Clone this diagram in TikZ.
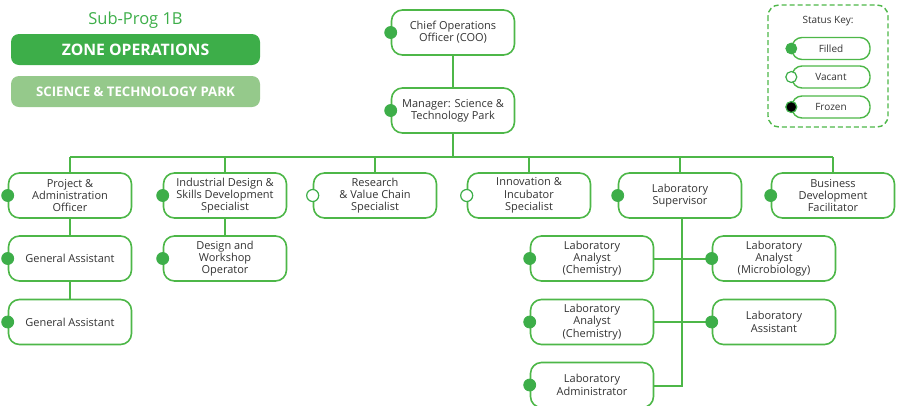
\documentclass[tikz,border=0pt]{standalone}
\usepackage{fontspec}
\setmainfont{Open Sans}
\definecolor{dkgreen}{HTML}{3DAE49}
\definecolor{ltgreen}{HTML}{95C98B}
\definecolor{bordergreen}{HTML}{4DB748}
\definecolor{txtgray}{HTML}{333333}
\begin{document}
\begin{tikzpicture}[x=1pt,y=-1pt,
  posbox/.style={rectangle,rounded corners=11pt,draw=bordergreen,line width=1.6pt,fill=white,
    minimum width=123pt,minimum height=45pt,align=center,text=txtgray,
    font=\fontsize{11}{12.3}\selectfont,inner sep=2pt},
  keybox/.style={rectangle,rounded corners=10pt,draw=bordergreen,line width=1.4pt,fill=white,
    minimum width=78pt,minimum height=22pt,align=center,text=txtgray,
    font=\fontsize{10}{12}\selectfont,inner sep=1pt},
  conn/.style={draw=bordergreen,line width=2pt},
  filled/.style={fill=dkgreen,draw=dkgreen,line width=0.8pt},
  vacant/.style={fill=white,draw=dkgreen,line width=1.2pt},
  frozen/.style={fill=black,draw=dkgreen,line width=1.2pt},
  banner/.style={rectangle,rounded corners=8pt,minimum width=249pt,minimum height=31pt,text=white,
    inner sep=0pt}]
\useasboundingbox (0,0) rectangle (901,405);
\clip (0,0) rectangle (901,405);

% header
\node[text=dkgreen,font=\fontsize{16.5}{19}\selectfont] (sub) at (135.5,20) {Sub-Prog 1B};
\node[banner,fill=dkgreen,font=\fontsize{15.8}{18}\bfseries] (zone) at (135.5,49.5) {ZONE OPERATIONS};
\node[banner,fill=ltgreen,font=\fontsize{13.2}{15}\bfseries] (park) at (135.5,91.5) {SCIENCE \& TECHNOLOGY PARK};

% status key
\draw[bordergreen,line width=1.4pt,dash pattern=on 5pt off 3pt,rounded corners=11pt] (768,5) rectangle (888,127);
\node[text=txtgray,font=\fontsize{10}{12}\selectfont] (keytitle) at (828,21) {Status Key:};
\node[keybox] (kf) at (831,48.5) {Filled};
\node[keybox] (kv) at (831,77) {Vacant};
\node[keybox] (kz) at (831,107) {Frozen};
\filldraw[filled] (kf.west) circle (5.5pt);
\filldraw[vacant] (kv.west) circle (5.5pt);
\filldraw[frozen] (kz.west) circle (5.5pt);

% top
\node[posbox] (coo) at (453,32.5) {Chief Operations\\Officer (COO)};
\node[posbox] (mgr) at (453,110.5) {Manager: Science \&\\Technology Park};

% level 2
\node[posbox] (proj) at (70,195.5) {Project \&\\Administration\\Officer};
\node[posbox] (ind) at (225,195.5) {Industrial Design \&\\Skills Development\\Specialist};
\node[posbox] (res) at (375,195.5) {Research\\\& Value Chain\\Specialist};
\node[posbox] (inn) at (529,195.5) {Innovation \&\\Incubator\\Specialist};
\node[posbox] (sup) at (680,195.5) {Laboratory\\Supervisor};
\node[posbox] (bus) at (833,195.5) {Business\\Development\\Facilitator};

% level 3
\node[posbox] (ga1) at (70,258.5) {General Assistant};
\node[posbox] (ga2) at (70,322) {General Assistant};
\node[posbox] (des) at (225,258.5) {Design and\\Workshop\\Operator};
\node[posbox] (chem1) at (592,258.5) {Laboratory\\Analyst\\(Chemistry)};
\node[posbox] (micro) at (774,258.5) {Laboratory\\Analyst\\(Microbiology)};
\node[posbox] (chem2) at (592,322) {Laboratory\\Analyst\\(Chemistry)};
\node[posbox] (asst) at (774,322) {Laboratory\\Assistant};
\node[posbox] (adm) at (592,385) {Laboratory\\Administrator};

% connectors
\coordinate (barL) at (70,157);
\coordinate (barR) at (833,157);
\draw[conn] (coo.south) -- (mgr.north);
\draw[conn] (mgr.south) -- (mgr.south |- barL);
\draw[conn] (barL) -- (barR);
\foreach \n in {proj,ind,res,inn,sup,bus}{
  \draw[conn] (\n.north) -- (\n.north |- barL);
}
\draw[conn] (proj.south) -- (ga1.north);
\draw[conn] (ga1.south) -- (ga2.north);
\draw[conn] (ind.south) -- (des.north);
\coordinate (labcorner) at (682,386);
\draw[conn] (sup.south -| labcorner) -- (labcorner) -- (adm.east |- labcorner);
\draw[conn] (chem1.east) -- (micro.west);
\draw[conn] (chem2.east) -- (asst.west);

% status circles
\foreach \n in {coo,mgr,proj,ind,sup,bus,ga1,ga2,des,chem1,micro,chem2,asst,adm}{
  \filldraw[filled] (\n.west) circle (6pt);
}
\foreach \n in {res,inn}{
  \filldraw[vacant] (\n.west) circle (6pt);
}
\end{tikzpicture}
\end{document}
